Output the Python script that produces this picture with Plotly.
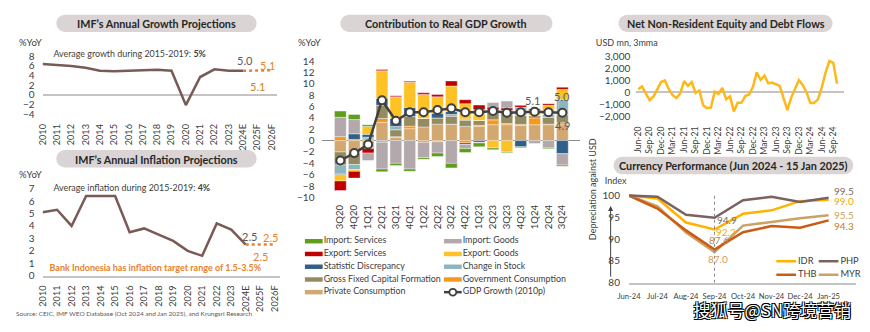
import plotly.graph_objects as go
import pandas as pd

W, H = 870, 332
FONT = "Lato"
TXT = "#404040"
TITLE_TXT = "#262626"
PILL = "#DAD5D4"


def fx(x):
    return x / W


def fy(y):
    return 1 - y / H


# ---------------- data ----------------
years = ["2010", "2011", "2012", "2013", "2014", "2015", "2016", "2017", "2018",
         "2019", "2020", "2021", "2022", "2023", "2024E", "2025F", "2026F"]
growth_actual = [6.4, 6.2, 6.0, 5.6, 5.0, 4.9, 5.0, 5.1, 5.2, 5.0, -2.1, 3.7, 5.3, 5.0, 5.0]
growth_forecast = [5.0, 5.1, 5.1]          # 2024E, 2025F, 2026F
inflation_actual = [5.1, 5.3, 4.0, 6.4, 6.4, 6.4, 3.5, 3.8, 3.3, 2.8, 2.0, 1.6, 4.2, 3.7, 2.5]
inflation_forecast = [2.5, 2.5, 2.5]

quarters = ["3Q20", "4Q20", "1Q21", "2Q21", "3Q21", "4Q21", "1Q22", "2Q22", "3Q22",
            "4Q22", "1Q23", "2Q23", "3Q23", "4Q23", "1Q24", "2Q24", "3Q24"]
private_cons = [-2.0, -2.2, -1.2, 3.2, 0.6, 2.1, 2.4, 2.9, 2.9, 2.5, 2.5, 2.8, 2.8, 2.65, 2.8, 2.8, 2.8]
gov_cons = [0.7, 0.2, 0.3, 0.7, 0.1, 0.45, -0.3, -0.2, 0.0, -0.4, 0.2, 0.85, 0.2, 0.2, 1.2, 0.1, 0.35]
gfcf = [-2.3, -2.0, -0.2, 2.3, 1.2, 1.7, 1.5, 1.1, 1.4, 1.1, 0.85, 1.8, 2.3, 1.6, 0.4, 1.2, 1.4]
change_stock = [-1.5, -0.9, 0.3, -0.3, 0.6, 0.0, 0.0, 0.0, 0.3, 0.2, 0.0, 0.0, 0.0, 1.4, 0.0, 0.5, 2.7]
stat_disc = [-0.2, 1.0, 0.5, 1.2, 1.4, 1.6, 0.0, 0.8, 0.5, -0.3, -0.3, 0.0, 0.0, -1.1, 0.0, 0.0, -2.3]
export_goods = [-1.1, -0.3, 1.4, 4.9, 3.8, 4.4, 4.2, 2.9, 4.5, 2.7, 1.9, -1.3, -2.0, 0.0, 0.9, 1.6, 1.75]
export_services = [-1.7, -1.2, -0.8, 0.2, 0.2, 0.2, 0.3, 0.4, 0.9, 0.7, 0.8, 0.45, 0.45, 0.4, 0.3, 0.3, 0.4]
import_goods = [3.4, 2.5, -1.3, -4.7, -4.0, -5.0, -2.7, -2.0, -4.0, -0.7, -0.1, 0.8, 1.2, 0.0, -0.5, -1.3, -2.0]
import_services = [1.1, 0.9, 0.3, -0.5, -0.4, -0.4, -0.3, -0.6, -0.8, -0.7, -0.7, -0.3, -0.15, -0.15, 0.0, -0.15, -0.2]
gdp_growth = [-3.5, -2.2, -0.7, 7.1, 3.5, 5.0, 5.0, 5.4, 5.7, 5.0, 5.0, 5.2, 4.9, 5.0, 5.1, 5.0, 4.9]

flow_months = [d.strftime("%b-%y") for d in pd.date_range("2020-06-01", "2024-10-01", freq="MS")]
net_flows = [250, 480, -100, -670, -350, 250, 850,
             980, 250, -250, -480, -100, 930, 530, 850, -50, 130, -1100, -1330,
             -1280, 50, -130, 350, -580, -350, -1600, -880, -880, -320, -190, 450,
             1650, 1040, 1380, 740, 800, 660, 530, -500, -1500, -450, 300, 1000,
             600, 0, -900, -900, -600, 400, 1650, 2600, 2450, 700]

fx_months = ["Jun-24", "Jul-24", "Aug-24", "Sep-24", "Oct-24", "Nov-24", "Dec-24", "Jan-25"]
idr = [100, 99.3, 93.8, 92.2, 95.8, 96.6, 98.7, 99.0]
php = [100, 99.7, 95.6, 94.9, 98.9, 99.7, 98.5, 99.5]
thb = [100, 97.0, 92.0, 87.6, 91.6, 93.0, 92.6, 94.3]
myr = [100, 97.5, 91.5, 87.0, 93.1, 94.0, 94.8, 95.5]

# ---------------- styles ----------------
BROWN = "#7A5A55"
FORECAST = "#E5822E"
components = [
    ("Private Consumption", private_cons, "#D2A870"),
    ("Government Consumption", gov_cons, "#F7981E"),
    ("Gross Fixed Capital Formation", gfcf, "#948B60"),
    ("Change in Stock", change_stock, "#8BB5BF"),
    ("Statistic Discrepancy", stat_disc, "#2F5F8A"),
    ("Export: Goods", export_goods, "#FFC226"),
    ("Export: Services", export_services, "#C00000"),
    ("Import: Goods", import_goods, "#B3A8AB"),
    ("Import: Services", import_services, "#5E9E1A"),
]
CUR = {"IDR": "#FFB300", "PHP": "#7B625E", "THB": "#CC5A12", "MYR": "#C9A264"}

fig = go.Figure()

# ---- IMF growth ----
fig.add_trace(go.Scatter(x=years[:15], y=growth_actual, mode="lines",
                         line=dict(color=BROWN, width=2.5), xaxis="x", yaxis="y"))
fig.add_trace(go.Scatter(x=years[14:], y=growth_forecast, mode="lines",
                         line=dict(color=FORECAST, width=2.5, dash="dot"), xaxis="x", yaxis="y"))

# ---- IMF inflation ----
fig.add_trace(go.Scatter(x=years[:15], y=inflation_actual, mode="lines",
                         line=dict(color=BROWN, width=2.5), xaxis="x2", yaxis="y2"))
fig.add_trace(go.Scatter(x=years[14:], y=inflation_forecast, mode="lines",
                         line=dict(color=FORECAST, width=2.5, dash="dot"), xaxis="x2", yaxis="y2"))

# ---- contribution to GDP growth ----
for name, vals, col in components:
    fig.add_trace(go.Bar(x=quarters, y=vals, name=name,
                         marker=dict(color=col, line=dict(color="white", width=0.4)),
                         xaxis="x3", yaxis="y3"))
fig.add_trace(go.Scatter(x=quarters, y=gdp_growth, mode="lines+markers", name="GDP Growth (2010p)",
                         line=dict(color="#404040", width=2.5),
                         marker=dict(size=8, color="white", line=dict(color="#404040", width=2)),
                         xaxis="x3", yaxis="y3"))

# ---- net flows ----
fig.add_trace(go.Scatter(x=flow_months, y=net_flows, mode="lines",
                         line=dict(color="#FFB81C", width=2.5), xaxis="x4", yaxis="y4"))

# ---- currency performance ----
for name, vals in [("MYR", myr), ("THB", thb), ("IDR", idr), ("PHP", php)]:
    fig.add_trace(go.Scatter(x=fx_months, y=vals, mode="lines", name=name,
                             line=dict(color=CUR[name], width=2.5), xaxis="x5", yaxis="y5"))

tickfont = dict(family=FONT, size=10, color=TXT)
yeartick = dict(family=FONT, size=9.2, color=TXT)
qtick = dict(family=FONT, size=9.5, color=TXT)
monthtick = dict(family=FONT, size=8.6, color=TXT)
smalltick = dict(family=FONT, size=7.6, color=TXT)


def xdom(a, b):
    return [fx(a), fx(b)]


def ydom(top, bottom):
    return [fy(bottom), fy(top)]


fig.update_layout(
    width=W, height=H, margin=dict(l=0, r=0, t=0, b=0),
    paper_bgcolor="white", plot_bgcolor="rgba(0,0,0,0)", showlegend=False,
    barmode="relative", bargap=0.15,
    font=dict(family=FONT, color=TXT),
    xaxis=dict(domain=xdom(31, 269), type="category", tickangle=-90, tickfont=yeartick,
               showgrid=False, ticks="", anchor="y", ticklabelstandoff=4),
    yaxis=dict(domain=ydom(50, 116), range=[-4.6, 8.6], tickvals=list(range(-4, 9, 2)), tickfont=tickfont,
               showgrid=False, zeroline=True, zerolinecolor="#C4C4C4", zerolinewidth=2,
               anchor="x", ticklabelstandoff=7),
    xaxis2=dict(domain=xdom(31, 272), type="category", tickangle=-90, tickfont=yeartick,
                showgrid=False, ticks="", anchor="y2", showline=True, linecolor="#C4C4C4", linewidth=2,
                ticklabelstandoff=4),
    yaxis2=dict(domain=ydom(186, 280), range=[0, 7.3], tickvals=list(range(0, 8)), tickfont=tickfont,
                showgrid=False, zeroline=False, anchor="x2", ticklabelstandoff=7),
    xaxis3=dict(domain=xdom(314.8, 576.2), type="category", tickangle=-90, tickfont=qtick,
                showgrid=False, ticks="", anchor="y3", ticklabelstandoff=3),
    yaxis3=dict(domain=ydom(56.2, 200.8), range=[-10.3, 14.3], tickvals=list(range(-10, 15, 2)), tickfont=tickfont,
                showgrid=False, zeroline=True, zerolinecolor="#8C8C8C", zerolinewidth=1,
                anchor="x3", ticklabelstandoff=7),
    xaxis4=dict(domain=xdom(633, 844), type="category", tickangle=-90, tickfont=monthtick,
                range=[-0.5, 53.9], tickvals=flow_months[::3],
                showgrid=False, ticks="", anchor="y4", ticklabelstandoff=4),
    yaxis4=dict(domain=ydom(49.3, 118.7), range=[-2300, 3300], tickvals=list(range(-2000, 3001, 1000)),
                tickformat=",", tickfont=tickfont,
                showgrid=False, zeroline=True, zerolinecolor="#C4C4C4", zerolinewidth=2,
                anchor="x4", ticklabelstandoff=5),
    xaxis5=dict(domain=xdom(625.6, 855.4), type="category", tickfont=smalltick, tickangle=0,
                showgrid=False, ticks="", anchor="y5", showline=True, linecolor="#C4C4C4", linewidth=2,
                ticklabelstandoff=5),
    yaxis5=dict(domain=ydom(188, 287.3), range=[80, 102], tickvals=list(range(80, 101, 5)), tickfont=tickfont,
                showgrid=False, zeroline=False, anchor="x5", ticklabelstandoff=8),
    # full-page pixel frame used for free-standing text
    xaxis6=dict(domain=[0, 1], range=[0, W], visible=False, anchor="y6", fixedrange=True),
    yaxis6=dict(domain=[0, 1], range=[H, 0], visible=False, anchor="x6", fixedrange=True),
)


def pill_path(x0, y0, x1, y1):
    r = (y1 - y0) / 2
    k = 0.5523 * r

    def P(x, y):
        return f"{fx(x):.5f},{fy(y):.5f}"
    return (f"M{P(x0 + r, y0)} L{P(x1 - r, y0)} "
            f"C{P(x1 - r + k, y0)} {P(x1, y0 + r - k)} {P(x1, y0 + r)} "
            f"C{P(x1, y0 + r + k)} {P(x1 - r + k, y1)} {P(x1 - r, y1)} "
            f"L{P(x0 + r, y1)} "
            f"C{P(x0 + r - k, y1)} {P(x0, y0 + r + k)} {P(x0, y0 + r)} "
            f"C{P(x0, y0 + r - k)} {P(x0 + r - k, y0)} {P(x0 + r, y0)} Z")


shapes = []
annotations = []
lab = {"x": [], "y": [], "t": [], "s": [], "c": []}


def text(x, y, s, size=10, color=TXT, bold=False):
    """Left-aligned free text placed in page pixels."""
    if bold:
        s = f"<b>{s}</b>"
    lab["x"].append(x)
    lab["y"].append(y)
    lab["t"].append(s)
    lab["s"].append(size)
    lab["c"].append(color)


def ctext(x, y, s, size=10, color=TXT, bold=False):
    if bold:
        s = f"<b>{s}</b>"
    annotations.append(dict(x=fx(x), y=fy(y), xref="paper", yref="paper", text=s, showarrow=False,
                            xanchor="center", yanchor="middle",
                            font=dict(family=FONT, size=size, color=color)))


# panel titles
for (x0, y0, x1, y1), title in [((45, 10, 248, 28), "IMF’s Annual Growth Projections"),
                                ((45, 150, 248, 168), "IMF’s Annual Inflation Projections"),
                                ((333, 10, 548, 28), "Contribution to Real GDP Growth"),
                                ((615, 10, 832, 28), "Net Non-Resident Equity and Debt Flows"),
                                ((610, 157, 853, 175), "Currency Performance (Jun 2024 - 15 Jan 2025)")]:
    shapes.append(dict(type="path", path=pill_path(x0, y0, x1, y1), xref="paper", yref="paper",
                       fillcolor=PILL, line=dict(width=0), layer="below"))
    ctext((x0 + x1) / 2, (y0 + y1) / 2 + 0.5, title, size=10.8, color=TITLE_TXT, bold=True)

# unit labels
text(7, 40, "%YoY", size=9.5)
text(7, 176, "%YoY", size=9.5)
text(290, 40, "%YoY", size=9.5)
text(592, 40, "USD mn, 3mma", size=9)
text(601, 183, "Index", size=9)

# growth panel notes
text(42, 52, "Average growth during 2015-2019: <b>5%</b>", size=8.9)
annotations += [
    dict(x="2024E", y=growth_forecast[0], xref="x", yref="y", text=f"{growth_forecast[0]:.1f}", showarrow=False,
         yshift=10, xshift=2, font=dict(family=FONT, size=11, color="#595959")),
    dict(x="2026F", y=growth_forecast[2], xref="x", yref="y", text=f"{growth_forecast[2]:.1f}", showarrow=False,
         yshift=5, xshift=-4, font=dict(family=FONT, size=11, color=FORECAST)),
    dict(x="2025F", y=growth_forecast[1], xref="x", yref="y", text=f"{growth_forecast[1]:.1f}", showarrow=False,
         yshift=-16, font=dict(family=FONT, size=11, color="#C8841E")),
]

# inflation panel notes
text(42, 190, "Average inflation during 2015-2019: <b>4%</b>", size=8.9)
text(38, 273, "Bank Indonesia has inflation target range of 1.5-3.5%", size=9, color="#E5822E", bold=True)
annotations += [
    dict(x="2024E", y=inflation_forecast[0], xref="x2", yref="y2", text=f"{inflation_forecast[0]:.1f}",
         showarrow=False, yshift=8, xshift=4, font=dict(family=FONT, size=11, color="#595959")),
    dict(x="2026F", y=inflation_forecast[2], xref="x2", yref="y2", text=f"{inflation_forecast[2]:.1f}",
         showarrow=False, yshift=7, xshift=-4, font=dict(family=FONT, size=11, color=FORECAST)),
    dict(x="2025F", y=inflation_forecast[1], xref="x2", yref="y2", text=f"{inflation_forecast[1]:.1f}",
         showarrow=False, yshift=-12, font=dict(family=FONT, size=11, color=FORECAST)),
]
text(4, 320, "Source: CEIC, IMF WEO Database (Oct 2024 and Jan 2025), and Krungsri Research", size=6.5,
     color="#595959")

# contribution labels
annotations += [
    dict(x="1Q24", y=gdp_growth[14], xref="x3", yref="y3", text=f"{gdp_growth[14]:.1f}", showarrow=False,
         yshift=11, xshift=-2, font=dict(family=FONT, size=11, color="#595959")),
    dict(x="2Q24", y=gdp_growth[15], xref="x3", yref="y3", text=f"{gdp_growth[15]:.1f}", showarrow=False,
         yshift=16, xshift=14, font=dict(family=FONT, size=11, color="#595959")),
    dict(x="3Q24", y=gdp_growth[16], xref="x3", yref="y3", text=f"{gdp_growth[16]:.1f}", showarrow=False,
         yshift=-13, font=dict(family=FONT, size=11, color="#595959")),
]
shapes.append(dict(type="path", xref="paper", yref="paper",
                   path=f"M{fx(554.3)},{fy(106)} L{fx(554.3)},{fy(95)} L{fx(558.5)},{fy(95)}",
                   line=dict(color="#BFBFBF", width=1)))

# contribution legend
legend_rows = [244.3, 257.5, 270.7, 283.9, 297]
legend_left = ["Import: Services", "Export: Services", "Statistic Discrepancy",
               "Gross Fixed Capital Formation", "Private Consumption"]
legend_right = ["Import: Goods", "Export: Goods", "Change in Stock", "Government Consumption"]
col_of = {n: c for n, _, c in components}
for names, x0 in [(legend_left, 297), (legend_right, 438)]:
    for n, yy in zip(names, legend_rows):
        shapes.append(dict(type="rect", xref="paper", yref="paper", x0=fx(x0), x1=fx(x0 + 18),
                           y0=fy(yy + 2.3), y1=fy(yy - 2.3), fillcolor=col_of[n], line=dict(width=0)))
        text(x0 + 19, yy, n, size=8.9)
shapes.append(dict(type="line", xref="paper", yref="paper", x0=fx(438), x1=fx(456), y0=fy(297), y1=fy(297),
                   line=dict(color="#404040", width=2.5)))
shapes.append(dict(type="circle", xref="paper", yref="paper", x0=fx(443.5), x1=fx(450.5), y0=fy(300.5),
                   y1=fy(293.5), fillcolor="white", line=dict(color="#404040", width=1.8)))
text(457, 297, "GDP Growth (2010p)", size=8.9)

# currency panel
shapes.append(dict(type="line", xref="x5", yref="y5", x0="Sep-24", x1="Sep-24", y0=80, y1=100,
                   line=dict(color="#8C8C8C", width=1, dash="dot")))
annotations += [
    dict(x="Sep-24", y=php[3], xref="x5", yref="y5", text=f"{php[3]:.1f}", showarrow=False, xshift=12, yshift=-2,
         font=dict(family=FONT, size=10, color="#7B6A66")),
    dict(x="Sep-24", y=idr[3], xref="x5", yref="y5", text=f"{idr[3]:.1f}", showarrow=False, xshift=11, yshift=-2,
         font=dict(family=FONT, size=10, color="#F2A900")),
    dict(x="Sep-24", y=thb[3], xref="x5", yref="y5", text=f"{thb[3]:.1f}", showarrow=False, xshift=4, yshift=10,
         font=dict(family=FONT, size=10, color="#B58850")),
    dict(x="Sep-24", y=myr[3], xref="x5", yref="y5", text=f"{myr[3]:.1f}", showarrow=False, xshift=3, yshift=-7,
         font=dict(family=FONT, size=10, color="#D0A060")),
    dict(x="Jan-25", y=php[-1], xref="x5", yref="y5", text=f"{php[-1]:.1f}", showarrow=False, xshift=15, yshift=7,
         font=dict(family=FONT, size=10, color="#7B6A66")),
    dict(x="Jan-25", y=idr[-1], xref="x5", yref="y5", text=f"{idr[-1]:.1f}", showarrow=False, xshift=15, yshift=-1,
         font=dict(family=FONT, size=10, color="#F2A900")),
    dict(x="Jan-25", y=myr[-1], xref="x5", yref="y5", text=f"{myr[-1]:.1f}", showarrow=False, xshift=15, yshift=0,
         font=dict(family=FONT, size=10, color="#D0A060")),
    dict(x="Jan-25", y=thb[-1], xref="x5", yref="y5", text=f"{thb[-1]:.1f}", showarrow=False, xshift=15, yshift=-6,
         font=dict(family=FONT, size=10, color="#C07A2E")),
]
for name, x0, yy in [("IDR", 775, 265), ("PHP", 818, 265), ("THB", 775, 279), ("MYR", 818, 279)]:
    shapes.append(dict(type="line", xref="paper", yref="paper", x0=fx(x0), x1=fx(x0 + 20), y0=fy(yy), y1=fy(yy),
                       line=dict(color=CUR[name], width=2.5)))
    text(x0 + 22, yy, name, size=9.3)
annotations.append(dict(x=fx(597), y=fy(245), xref="paper", yref="paper", text="Depreciation against USD",
                        textangle=-90, showarrow=False, font=dict(family=FONT, size=9, color=TXT)))
annotations.append(dict(x=fx(607), y=fy(208), xref="paper", yref="paper", text="", showarrow=True,
                        ax=0, ay=72, arrowhead=2, arrowsize=1, arrowwidth=1, arrowcolor="#404040"))

# free-standing text, left aligned
fig.add_trace(go.Scatter(x=lab["x"], y=lab["y"], text=lab["t"], mode="text", textposition="middle right",
                         textfont=dict(family=FONT, size=lab["s"], color=lab["c"]),
                         cliponaxis=False, hoverinfo="skip", xaxis="x6", yaxis="y6"))
# watermark
fig.add_trace(go.Scatter(x=[771], y=[318], text=["搜狐号@SN跨境营销"], mode="text", textposition="middle center",
                         textfont=dict(family="Noto Sans CJK SC", size=17, color="white",
                                       shadow="-1px -1px 0 #000, 1px -1px 0 #000, -1px 1px 0 #000, 1px 1px 0 #000"),
                         cliponaxis=False, hoverinfo="skip", xaxis="x6", yaxis="y6"))

fig.update_layout(shapes=shapes, annotations=annotations)
fig.write_html("out.html")
